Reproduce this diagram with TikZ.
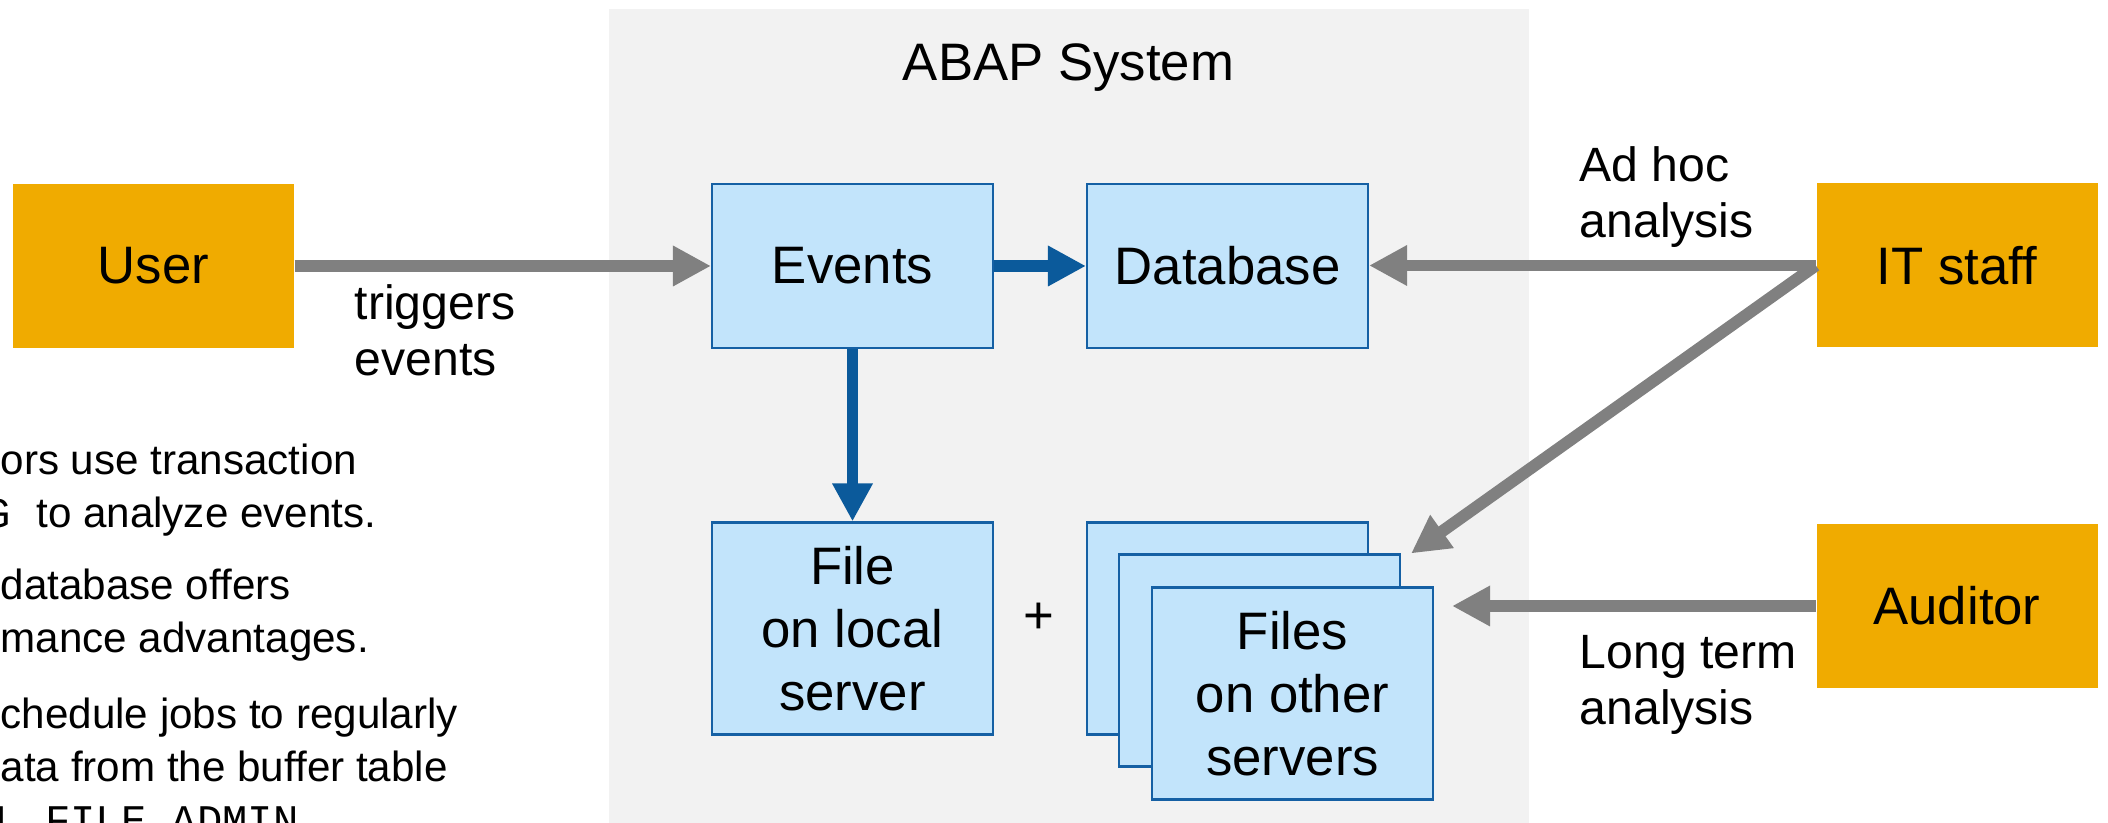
\documentclass[tikz,border=0pt]{standalone}
\usepackage{fontspec}
\setmainfont{Liberation Sans}
\setmonofont{Liberation Mono}
\usetikzlibrary{arrows.meta,positioning}
\definecolor{sapgold}{HTML}{F0AB00}
\definecolor{boxfill}{HTML}{C2E4FB}
\definecolor{boxline}{HTML}{1560A4}
\definecolor{flowblue}{HTML}{0B5A9B}
\definecolor{arrowgray}{HTML}{808080}
\definecolor{panelgray}{HTML}{F2F2F2}

\begin{document}
\begin{tikzpicture}[
    node distance=3.75cm,
    actor/.style={rectangle, fill=sapgold, minimum width=2.81cm, minimum height=1.64cm, font=\fontsize{15}{18}\selectfont},
    box/.style={rectangle, draw=boxline, fill=boxfill, line width=0.6pt, minimum width=2.81cm, minimum height=1.64cm, align=center, font=\fontsize{15}{18}\selectfont},
    filebox/.style={box, minimum height=2.12cm},
    remark/.style={inner sep=0pt, align=left, font=\fontsize{13.7}{16}\selectfont},
    notes/.style={inner sep=0pt, align=left, font=\fontsize{12}{15.1}\selectfont},
    arrow/.style={-{Triangle[length=3.8mm,width=3.8mm]}, line width=3.4pt, draw=arrowgray},
    flow/.style={arrow, draw=flowblue}
]
    \useasboundingbox (0,0) rectangle (21.08,8.23);
    \clip (0,0) rectangle (21.08,8.23);

    % System panel
    \fill[panelgray] (6.09,0) rectangle (15.29,8.14);
    \node[anchor=base, font=\fontsize{15}{18}\selectfont] (title) at (10.685,7.42) {ABAP System};

    % Nodes
    \node[actor] (user) at (1.535,5.57) {User};
    \node[box, right of=user, node distance=6.99cm] (events) {Events};
    \node[box, right of=events] (database) {Database};
    \node[filebox, below of=events, node distance=3.625cm] (local) {File\\on local\\server};
    \node[filebox, right of=local] (files3) {};
    \node[filebox, xshift=3.2mm, yshift=-3.2mm] (files2) at (files3) {};
    \node[filebox, xshift=6.5mm, yshift=-6.5mm] (files) at (files3) {Files\\on other\\servers};
    \node[font=\fontsize{15}{18}\selectfont] (plus) at (10.39,2.05) {+};

    \node[actor] (itstaff) at (19.57,5.575) {IT staff};
    \node[actor, below of=itstaff, node distance=3.405cm] (auditor) {Auditor};

    % Arrows into the system
    \draw[arrow] (user) -- (events);
    \node[remark, anchor=base west] (trig) at (3.54,4.47) {triggers\\events};

    % Logging inside the system
    \draw[flow] (events) -- (database);
    \draw[flow] (events) -- (local);

    % Analysis
    \draw[arrow] (itstaff.west) -- (itstaff.west -| database.east);
    \draw[arrow] (itstaff.west) -- ([xshift=1mm]files2.north east);
    \draw[arrow, shorten >=1.8mm] (auditor.west) -- (auditor.west -| files.east);
    \node[remark, anchor=base west] (adhoc) at (15.79,5.85) {Ad hoc\\analysis};
    \node[remark, anchor=base west] (longterm) at (15.79,0.98) {Long term\\analysis};

    % Notes on the left
    \node[notes, anchor=base west] (note1) at (0,2.95) {ors use transaction\\\hspace*{-1.5mm}\texttt{G }to analyze events.};
    \node[notes, anchor=base west] (note2) at (0,1.70) {database offers\\mance advantages.};
    \node[notes, anchor=base west] (note3) at (0,-0.12) {chedule jobs to regularly\\ata from the buffer table\\\hspace*{-0.6mm}\texttt{L\_FILE\_ADMIN}};
\end{tikzpicture}
\end{document}
